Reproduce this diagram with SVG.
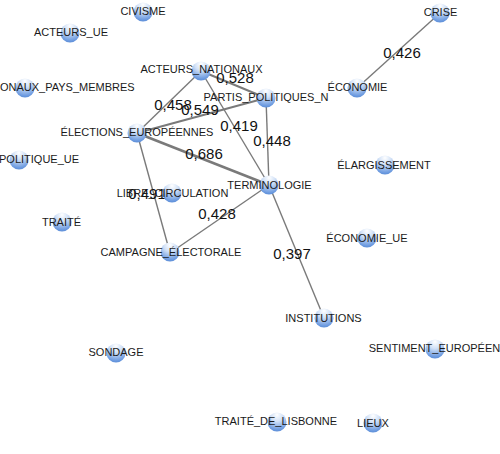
<svg xmlns="http://www.w3.org/2000/svg" width="500" height="454" viewBox="0 0 500 454">
<style>
.bg{fill:#ffffff}
.edge{stroke:#7a7a7a;stroke-width:1.4;fill:none}
.w2{stroke-width:2}
.w3{stroke-width:2.6}
.node{fill:url(#ng)}
.lbl{font-family:"Liberation Sans",Arial,sans-serif;font-size:11px;fill:#1a1a1a;text-anchor:middle}
.lbl.s{text-anchor:start}
.el{font-family:"Liberation Sans",Arial,sans-serif;font-size:15px;fill:#111111;text-anchor:middle}
</style>
<defs>
<radialGradient id="ng" cx="0.5" cy="0.2" r="0.9" fx="0.5" fy="0.12">
<stop offset="0" stop-color="#ffffff"/>
<stop offset="0.35" stop-color="#d3e2f7"/>
<stop offset="0.8" stop-color="#6d9be0"/>
<stop offset="1" stop-color="#4a80cf"/>
</radialGradient>
</defs>
<rect class="bg" x="0" y="0" width="500" height="454"/>
<g id="connectors">
<line class="edge" x1="440" y1="13" x2="357" y2="88"/>
<line class="edge" x1="201" y1="71" x2="137" y2="133"/>
<line class="edge w2" x1="201" y1="71" x2="266" y2="98"/>
<line class="edge" x1="201" y1="71" x2="269" y2="185"/>
<line class="edge w2" x1="137" y1="133" x2="266" y2="98"/>
<line class="edge" x1="266" y1="98" x2="269" y2="185"/>
<line class="edge w3" x1="137" y1="133" x2="269" y2="185"/>
<line class="edge" x1="137" y1="133" x2="170" y2="253"/>
<line class="edge" x1="170" y1="253" x2="269" y2="185"/>
<line class="edge" x1="269" y1="185" x2="324" y2="318"/>
<text class="el" x="402" y="58">0,426</text>
<text class="el" x="173" y="110">0,458</text>
<text class="el" x="200" y="115">0,549</text>
<text class="el" x="235" y="83">0,528</text>
<text class="el" x="239" y="131">0,419</text>
<text class="el" x="272" y="146">0,448</text>
<text class="el" x="204" y="159">0,686</text>
<text class="el" x="147" y="199">0,491</text>
<text class="el" x="217" y="219">0,428</text>
<text class="el" x="292" y="259">0,397</text>
</g>
<g id="n-civisme"><circle class="node" cx="143" cy="12" r="9.5"/><text class="lbl" x="143" y="15">CIVISME</text></g>
<g id="n-acteurs-ue"><circle class="node" cx="70" cy="33" r="9.5"/><text class="lbl" x="71" y="36">ACTEURS_UE</text></g>
<g id="n-nationaux-pays-membres"><circle class="node" cx="25" cy="88" r="9.5"/><text class="lbl s" x="0" y="91">ONAUX_PAYS_MEMBRES</text></g>
<g id="n-acteurs-nationaux"><circle class="node" cx="201" cy="71" r="9.5"/><text class="lbl" x="201.5" y="73">ACTEURS_NATIONAUX</text></g>
<g id="n-crise"><circle class="node" cx="440" cy="13" r="9.5"/><text class="lbl" x="440.5" y="16">CRISE</text></g>
<g id="n-economie"><circle class="node" cx="357" cy="88" r="9.5"/><text class="lbl" x="357.5" y="91">ÉCONOMIE</text></g>
<g id="n-partis-politiques"><circle class="node" cx="266" cy="98" r="9.5"/><text class="lbl" x="266" y="101">PARTIS_POLITIQUES_N</text></g>
<g id="n-elections-europeennes"><circle class="node" cx="137" cy="133" r="9.5"/><text class="lbl" x="137" y="136">ÉLECTIONS_EUROPÉENNES</text></g>
<g id="n-politique-ue"><circle class="node" cx="19" cy="160" r="9.5"/><text class="lbl s" x="-1" y="163">POLITIQUE_UE</text></g>
<g id="n-elargissement"><circle class="node" cx="385" cy="165" r="9.5"/><text class="lbl" x="384" y="169">ÉLARGISSEMENT</text></g>
<g id="n-libre-circulation"><circle class="node" cx="172" cy="193" r="9.5"/><text class="lbl" x="172.5" y="197">LIBRE_CIRCULATION</text></g>
<g id="n-terminologie"><circle class="node" cx="269" cy="185" r="9.5"/><text class="lbl" x="269.5" y="189">TERMINOLOGIE</text></g>
<g id="n-traite"><circle class="node" cx="62" cy="222" r="9.5"/><text class="lbl" x="61.5" y="226">TRAITÉ</text></g>
<g id="n-economie-ue"><circle class="node" cx="367" cy="238" r="9.5"/><text class="lbl" x="367" y="242">ÉCONOMIE_UE</text></g>
<g id="n-campagne-electorale"><circle class="node" cx="170" cy="252" r="9.5"/><text class="lbl" x="171" y="256">CAMPAGNE_ÉLECTORALE</text></g>
<g id="n-institutions"><circle class="node" cx="324" cy="318" r="9.5"/><text class="lbl" x="323.5" y="322">INSTITUTIONS</text></g>
<g id="n-sentiment-europeen"><circle class="node" cx="435" cy="349" r="9.5"/><text class="lbl" x="434.5" y="352">SENTIMENT_EUROPÉEN</text></g>
<g id="n-sondage"><circle class="node" cx="116" cy="353" r="9.5"/><text class="lbl" x="116" y="356">SONDAGE</text></g>
<g id="n-traite-de-lisbonne"><circle class="node" cx="277" cy="422" r="9.5"/><text class="lbl" x="276" y="425">TRAITÉ_DE_LISBONNE</text></g>
<g id="n-lieux"><circle class="node" cx="373" cy="423" r="9.5"/><text class="lbl" x="373" y="427">LIEUX</text></g>
</svg>
